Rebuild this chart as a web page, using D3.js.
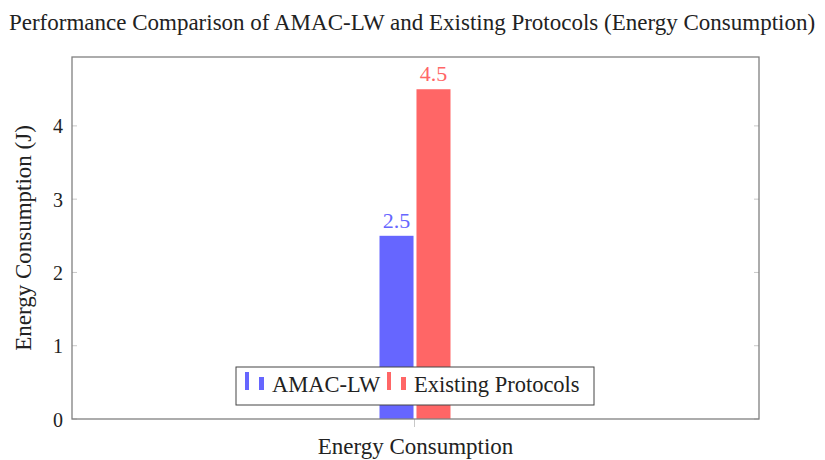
<!DOCTYPE html>
<html>
<head>
<meta charset="utf-8">
<script src="https://cdn.jsdelivr.net/npm/d3@7"></script>
<style>
  body { margin: 0; background: #fff; }
  text { font-family: "Liberation Serif", "DejaVu Serif", serif; }
</style>
</head>
<body>
<div id="chart"></div>
<script>
// data
const categories = ["Energy Consumption"]
const series = ["AMAC-LW", "Existing Protocols"]
const amacValues = [2.5]
const existingValues = [4.5]
const yTicks = [0, 1, 2, 3, 4]
const colors = ["#6666ff", "#ff6666"]

const W = 825, H = 460
var margin = {top: 57, right: 66, bottom: 41, left: 72},
width = W - margin.left - margin.right,
height = H - margin.top - margin.bottom;

var svg = d3.select("#chart")
.append("svg")
.attr("width", W)
.attr("height", H)

var g = svg.append("g")
.attr("transform", "translate(" + margin.left + "," + margin.top + ")");

// scales
var x0 = d3.scaleBand()
.domain(categories)
.range([0, width])

var x1 = d3.scaleBand()
.domain(series)
.range([-36, 35])
.paddingInner(0.08)

var y = d3.scaleLinear()
.domain([0, 4.94])
.range([height, 0]);

// light ticks, inward on both sides
yTicks.forEach(function(t) {
  g.append("line")
  .attr("x1", 0).attr("x2", 5)
  .attr("y1", y(t)).attr("y2", y(t))
  .attr("stroke", "#c8c8c8").attr("stroke-width", 1)
  g.append("line")
  .attr("x1", width - 5).attr("x2", width)
  .attr("y1", y(t)).attr("y2", y(t))
  .attr("stroke", "#c8c8c8").attr("stroke-width", 1)
})

// bars
var rows = categories.map(function(c, i) {
  return [
    { cat: c, s: series[0], value: amacValues[i], color: colors[0] },
    { cat: c, s: series[1], value: existingValues[i], color: colors[1] }
  ]
})

rows.forEach(function(row) {
  var cx = x0(row[0].cat) + x0.bandwidth() / 2
  g.selectAll(null)
  .data(row)
  .enter()
  .append("rect")
  .attr("x", function(d) { return cx + x1(d.s); })
  .attr("y", function(d) { return y(d.value); })
  .attr("width", x1.bandwidth())
  .attr("height", function(d) { return height - y(d.value); })
  .attr("fill", function(d) { return d.color; })

  g.selectAll(null)
  .data(row)
  .enter()
  .append("text")
  .attr("x", function(d) { return cx + x1(d.s) + x1.bandwidth() / 2; })
  .attr("y", function(d) { return y(d.value) - 8; })
  .attr("text-anchor", "middle")
  .attr("font-size", 22)
  .attr("fill", function(d) { return d.color; })
  .text(function(d) { return d.value.toFixed(1); })

  // x tick below the axis
  g.append("line")
  .attr("x1", cx - 1).attr("x2", cx - 1)
  .attr("y1", height).attr("y2", height + 8)
  .attr("stroke", "#c8c8c8")
})

// frame
g.append("rect")
.attr("x", 0).attr("y", 0)
.attr("width", width).attr("height", height)
.attr("fill", "none")
.attr("stroke", "#808080")
.attr("stroke-width", 1.3)

// y tick labels
g.selectAll(".ylab")
.data(yTicks)
.enter()
.append("text")
.attr("x", -9)
.attr("y", function(d) { return y(d); })
.attr("dy", "0.38em")
.attr("text-anchor", "end")
.attr("font-size", 20)
.attr("fill", "#222")
.text(function(d) { return d; })

// x category label
svg.append("text")
.attr("x", margin.left + x0(categories[0]) + x0.bandwidth() / 2)
.attr("y", 454)
.attr("text-anchor", "middle")
.attr("font-size", 23)
.attr("fill", "#222")
.text(categories[0])

// y axis title
svg.append("text")
.attr("transform", "translate(31," + (margin.top + height / 2) + ") rotate(-90)")
.attr("text-anchor", "middle")
.attr("font-size", 23)
.attr("fill", "#222")
.text("Energy Consumption (J)")

// title
svg.append("text")
.attr("x", 412)
.attr("y", 30)
.attr("text-anchor", "middle")
.attr("font-size", 23)
.attr("fill", "#222")
.text("Performance Comparison of AMAC-LW and Existing Protocols (Energy Consumption)")

// legend
var lg = svg.append("g").attr("transform", "translate(236,367)")
lg.append("rect")
.attr("width", 358).attr("height", 38)
.attr("fill", "#fff")
.attr("stroke", "#444")
.attr("stroke-width", 1)

var legendX = [9, 151]
series.forEach(function(s, i) {
  var e = lg.append("g").attr("transform", "translate(" + legendX[i] + ",0)")
  e.append("rect").attr("x", 0).attr("y", 5).attr("width", 4).attr("height", 18)
  .attr("fill", colors[i])
  e.append("rect").attr("x", 14).attr("y", 10).attr("width", 5).attr("height", 13)
  .attr("fill", colors[i])
  e.append("text")
  .attr("x", 27).attr("y", 25)
  .attr("font-size", 22.5)
  .attr("fill", "#222")
  .text(s)
})
</script>
</body>
</html>
